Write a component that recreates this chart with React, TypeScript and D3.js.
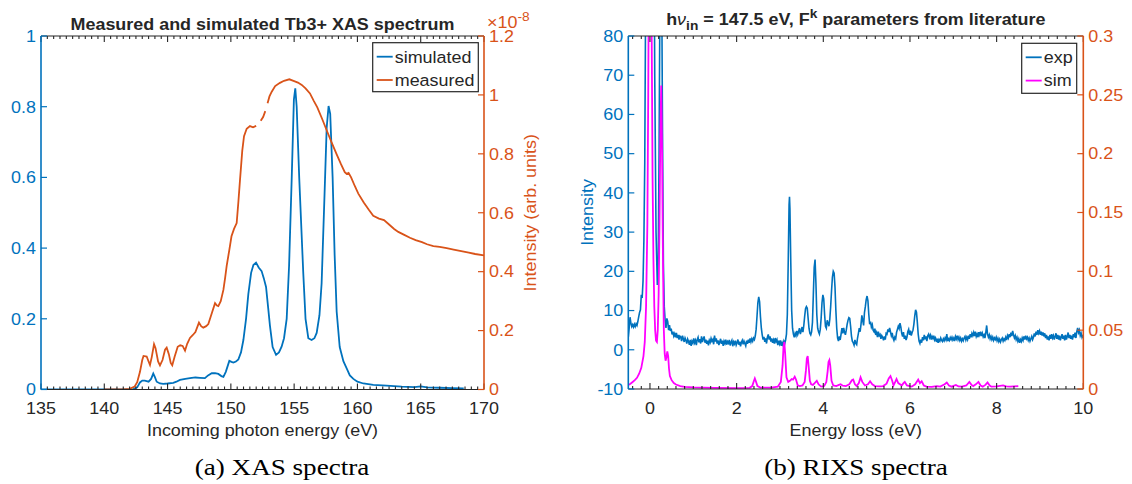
import React from 'react';
import * as d3 from 'd3';

const BLUE = '#0072BD';
const ORANGE = '#D95319';
const MAG = '#FF00FF';
const AX = '#262626';
const FONT = '"Liberation Sans", Arial, Helvetica, sans-serif';
const SERIF = '"Liberation Serif", "Times New Roman", serif';
const FS = 16.3;
const SX = 1.1;

// ---------- XAS panel data ----------
const xasXTicks = [135, 140, 145, 150, 155, 160, 165, 170];
const xasLeftTicks = [0, 0.2, 0.4, 0.6, 0.8, 1];
const xasRightTicks = [0, 0.2, 0.4, 0.6, 0.8, 1, 1.2];

// simulated XAS: [photon energy (eV), intensity]
const xasSimulated = [
  [135, 0], [140, 0], [142.3, 0.001], [142.6, 0.006], [142.82, 0.02], [143.0, 0.025], [143.2, 0.025], [143.5, 0.022],
  [143.7, 0.03], [143.87, 0.045], [144.0, 0.035], [144.14, 0.022], [144.4, 0.017], [144.66, 0.016], [145.0, 0.017],
  [145.45, 0.019], [145.7, 0.022], [145.98, 0.027], [146.4, 0.03], [146.77, 0.032], [147.2, 0.034], [147.56, 0.033],
  [147.95, 0.032], [148.2, 0.04], [148.49, 0.046], [148.75, 0.046], [149.01, 0.044], [149.25, 0.038], [149.41, 0.036],
  [149.6, 0.05], [149.88, 0.081], [150.05, 0.078], [150.2, 0.076], [150.4, 0.079], [150.59, 0.085], [150.8, 0.105],
  [150.99, 0.14], [151.2, 0.2], [151.38, 0.27], [151.6, 0.33], [151.78, 0.352], [151.99, 0.359], [152.2, 0.345],
  [152.43, 0.335], [152.6, 0.315], [152.78, 0.29], [152.95, 0.23], [153.09, 0.18], [153.3, 0.12], [153.57, 0.098],
  [153.8, 0.105], [154.01, 0.121], [154.2, 0.145], [154.41, 0.2], [154.6, 0.35], [154.81, 0.6], [154.98, 0.82],
  [155.09, 0.852], [155.2, 0.8], [155.4, 0.6], [155.72, 0.33], [155.9, 0.2], [156.12, 0.145], [156.38, 0.14],
  [156.6, 0.145], [156.78, 0.16], [157.0, 0.21], [157.17, 0.3], [157.4, 0.55], [157.57, 0.74], [157.72, 0.802],
  [157.85, 0.78], [158.04, 0.6], [158.2, 0.38], [158.36, 0.22], [158.6, 0.12], [158.89, 0.08], [159.15, 0.06],
  [159.4, 0.04], [159.68, 0.03], [160.0, 0.022], [160.47, 0.017], [161.25, 0.013], [162.3, 0.011], [163.5, 0.008],
  [164.5, 0.007], [165.0, 0.009], [165.5, 0.006], [166.5, 0.005], [167.5, 0.004], [168.4, 0.003],
];

// measured XAS (x 1e-8): null marks a gap in the measurement
const xasMeasured = [
  [140, 0], [141.5, 0], [142.0, 0.002], [142.4, 0.01], [142.6, 0.025], [142.82, 0.06], [143.0, 0.1], [143.1, 0.114],
  [143.35, 0.112], [143.5, 0.095], [143.61, 0.083], [143.75, 0.11], [143.93, 0.154], [144.05, 0.14], [144.14, 0.12],
  [144.25, 0.095], [144.4, 0.082], [144.6, 0.1], [144.8, 0.135], [144.93, 0.142], [145.1, 0.12], [145.25, 0.09],
  [145.37, 0.082], [145.55, 0.11], [145.8, 0.145], [146.0, 0.15], [146.19, 0.148], [146.38, 0.132], [146.55, 0.155],
  [146.77, 0.175], [147.0, 0.185], [147.2, 0.195], [147.48, 0.227], [147.65, 0.215], [147.82, 0.21], [148.05, 0.215],
  [148.22, 0.222], [148.5, 0.26], [148.75, 0.293], [148.9, 0.285], [149.01, 0.283], [149.2, 0.3], [149.41, 0.338],
  [149.55, 0.38], [149.67, 0.42], [149.88, 0.474], [150.05, 0.52], [150.25, 0.545], [150.46, 0.565], [150.6, 0.64],
  [150.72, 0.71], [150.9, 0.81], [151.04, 0.86], [151.25, 0.885], [151.51, 0.894], [151.75, 0.89], [152.0, 0.895],
  null,
  [152.36, 0.912], [152.55, 0.925], [152.72, 0.945],
  null,
  [152.9, 0.972], [153.05, 0.995], [153.23, 1.011], [153.5, 1.03], [153.88, 1.041], [154.2, 1.048], [154.62, 1.053],
  [155.0, 1.047], [155.3, 1.042], [155.6, 1.034], [155.9, 1.022], [156.25, 1.005], [156.55, 0.98], [156.83, 0.958],
  [157.2, 0.92], [157.57, 0.88], [157.95, 0.84], [158.36, 0.798], [158.7, 0.765], [159.0, 0.738], [159.15, 0.732],
  [159.3, 0.735], [159.5, 0.72], [159.8, 0.69], [160.07, 0.665], [160.5, 0.635], [160.9, 0.61], [161.25, 0.59],
  [161.7, 0.58], [162.1, 0.575], [162.5, 0.56], [162.9, 0.545], [163.23, 0.535], [163.7, 0.525], [164.15, 0.515],
  [164.6, 0.507], [165.1, 0.5], [165.5, 0.493], [166.0, 0.487], [166.5, 0.484], [167.05, 0.48], [167.6, 0.475],
  [168.2, 0.47], [168.8, 0.465], [169.3, 0.46], [170, 0.455],
];

// ---------- RIXS panel data ----------
const rixsXTicks = [0, 2, 4, 6, 8, 10];
const rixsLeftTicks = [-10, 0, 10, 20, 30, 40, 50, 60, 70, 80];
const rixsRightTicks = [0, 0.05, 0.1, 0.15, 0.2, 0.25, 0.3];

// experimental RIXS: [energy loss (eV), intensity]
const rixsExp = [
  [-0.5, 3.2], [-0.48, 5.5], [-0.46, 8.3], [-0.44, 6.8], [-0.42, 5.9], [-0.4, 6.4], [-0.38, 5.8], [-0.36, 6.5], [-0.34, 5.9],
  [-0.32, 6.6], [-0.3, 6.2], [-0.28, 7.2], [-0.26, 8.4], [-0.24, 9.5], [-0.22, 10.2], [-0.2, 14.0], [-0.18, 13.2],
  [-0.16, 17.5], [-0.14, 28], [-0.12, 48], [-0.1, 90], [-0.07, 150], [-0.03, 190], [0.0, 200], [0.04, 185], [0.08, 140],
  [0.11, 70], [0.14, 30], [0.17, 16.5], [0.19, 22], [0.21, 50], [0.23, 90], [0.25, 110], [0.27, 95], [0.29, 55],
  [0.31, 22], [0.33, 11], [0.35, 7.5], [0.37, 5.6], [0.39, 8.0], [0.41, 7.2], [0.43, 5.0], [0.45, 6.3], [0.47, 4.8],
  [0.49, 5.4], [0.51, 3.9], [0.53, 4.6], [0.55, 3.5], [0.57, 4.1], [0.59, 3.2], [0.61, 4.3], [0.63, 3.0], [0.65, 3.8],
  [0.67, 2.6], [0.69, 3.5], [0.71, 3.3], [0.73, 2.2], [0.75, 3.6], [0.77, 2.8], [0.79, 2.0], [0.81, 3.0], [0.83, 2.4],
  [0.85, 1.6], [0.87, 2.7], [0.89, 2.1], [0.91, 1.3], [0.93, 2.5], [0.95, 1.0], [0.97, 2.2], [0.99, 1.7], [1.01, 2.9],
  [1.03, 1.8], [1.05, 2.4], [1.07, 1.2], [1.09, 2.6], [1.11, 3.2], [1.13, 1.9], [1.15, 2.7], [1.17, 1.6], [1.19, 3.4],
  [1.21, 2.0], [1.23, 2.8], [1.25, 3.4], [1.27, 1.8], [1.29, 2.6], [1.31, 1.5], [1.33, 2.3], [1.35, 1.1], [1.37, 2.4],
  [1.39, 1.9], [1.41, 2.9], [1.43, 2.2], [1.45, 2.6], [1.47, 1.4], [1.49, 3.6], [1.51, 2.1], [1.53, 2.9], [1.55, 1.6],
  [1.57, 2.4], [1.59, 1.2], [1.61, 2.0], [1.63, 2.8], [1.65, 1.5], [1.67, 2.3], [1.69, 1.0], [1.71, 2.2], [1.73, 1.6],
  [1.75, 2.6], [1.77, 1.3], [1.79, 2.1], [1.81, 1.7], [1.83, 2.5], [1.85, 1.1], [1.87, 1.9], [1.89, 2.4], [1.91, 0.9],
  [1.93, 2.0], [1.95, 1.5], [1.97, 2.3], [1.99, 1.2], [2.01, 1.8], [2.03, 2.6], [2.05, 1.3], [2.07, 2.1], [2.09, 0.9],
  [2.11, 1.9], [2.13, 2.4], [2.15, 1.4], [2.17, 2.2], [2.19, 1.6], [2.21, 1.0], [2.23, 2.3], [2.25, 1.5], [2.27, 2.6],
  [2.29, 1.8], [2.31, 2.9], [2.33, 2.0], [2.35, 2.8], [2.37, 2.2], [2.39, 3.0], [2.41, 2.6], [2.43, 3.5], [2.45, 5.2],
  [2.47, 8.5], [2.49, 12.0], [2.51, 13.5], [2.53, 12.2], [2.55, 8.4], [2.57, 5.5], [2.59, 3.8], [2.61, 2.6], [2.63, 3.3],
  [2.65, 2.0], [2.67, 2.9], [2.69, 1.6], [2.71, 3.2], [2.73, 3.9], [2.75, 2.6], [2.77, 3.4], [2.79, 2.1], [2.81, 2.9],
  [2.83, 1.8], [2.85, 2.5], [2.87, 1.6], [2.89, 3.0], [2.91, 2.1], [2.93, 2.6], [2.95, 1.2], [2.97, 2.3], [2.99, 1.5],
  [3.01, 2.4], [3.03, 1.0], [3.05, 1.8], [3.07, 1.2], [3.09, 2.2], [3.11, 1.6], [3.13, 2.5], [3.15, 4.0], [3.17, 9],
  [3.19, 22], [3.21, 37], [3.22, 39], [3.23, 36], [3.25, 22], [3.27, 10], [3.29, 5.5], [3.31, 4.0], [3.33, 3.2],
  [3.35, 4.2], [3.37, 3.6], [3.39, 4.8], [3.41, 3.9], [3.43, 4.6], [3.45, 5.5], [3.47, 4.0], [3.49, 4.8], [3.51, 5.8],
  [3.53, 4.5], [3.55, 6.2], [3.57, 8.5], [3.59, 10.5], [3.61, 11.0], [3.63, 10.6], [3.65, 8.0], [3.67, 5.5], [3.69, 4.2],
  [3.71, 3.8], [3.73, 4.6], [3.75, 7.0], [3.77, 14], [3.79, 21], [3.81, 23], [3.83, 17], [3.85, 9], [3.87, 5.5],
  [3.89, 4.6], [3.91, 4.0], [3.93, 5.2], [3.95, 8.0], [3.97, 12], [3.99, 14], [4.01, 13], [4.03, 9], [4.05, 6.0],
  [4.07, 5.5], [4.09, 7.5], [4.11, 6.8], [4.13, 6.0], [4.15, 7.8], [4.17, 11], [4.19, 15], [4.21, 18.5], [4.23, 20],
  [4.25, 19.5], [4.27, 16], [4.29, 10], [4.31, 5.5], [4.33, 3.0], [4.35, 2.2], [4.37, 3.4], [4.39, 2.5], [4.41, 4.0],
  [4.43, 5.5], [4.45, 4.2], [4.47, 5.6], [4.49, 4.5], [4.51, 3.8], [4.53, 5.0], [4.55, 6.5], [4.57, 7.5], [4.59, 8.2],
  [4.61, 8.0], [4.63, 6.0], [4.65, 3.5], [4.67, 2.2], [4.69, 1.8], [4.71, 1.2], [4.73, 2.5], [4.75, 1.6], [4.77, 1.3],
  [4.79, 3.0], [4.81, 4.2], [4.83, 5.5], [4.85, 4.6], [4.87, 6.5], [4.89, 8.8], [4.91, 7.5], [4.93, 6.2], [4.95, 9.5],
  [4.97, 11.0], [4.99, 12.8], [5.01, 13.7], [5.03, 12.5], [5.05, 9.0], [5.07, 6.5], [5.09, 7.2], [5.11, 5.8], [5.13, 6.4],
  [5.15, 5.0], [5.17, 4.6], [5.19, 5.4], [5.21, 3.8], [5.23, 4.4], [5.25, 3.2], [5.27, 4.6], [5.29, 3.6], [5.31, 3.9],
  [5.33, 2.8], [5.35, 3.6], [5.37, 3.2], [5.39, 2.4], [5.41, 3.4], [5.43, 2.6], [5.45, 4.2], [5.47, 4.0], [5.49, 5.2],
  [5.51, 4.5], [5.53, 5.6], [5.55, 4.6], [5.57, 3.6], [5.59, 4.3], [5.61, 3.0], [5.63, 2.4], [5.65, 3.2], [5.67, 2.8],
  [5.69, 4.4], [5.71, 5.2], [5.73, 6.0], [5.75, 5.4], [5.77, 6.8], [5.79, 5.8], [5.81, 4.2], [5.83, 3.4], [5.85, 4.5],
  [5.87, 2.8], [5.89, 3.6], [5.91, 2.5], [5.93, 3.2], [5.95, 4.6], [5.97, 5.2], [5.99, 3.8], [6.01, 4.9], [6.03, 3.6],
  [6.05, 4.4], [6.07, 5.0], [6.09, 6.5], [6.11, 8.6], [6.13, 10.2], [6.15, 9.6], [6.17, 7.0], [6.19, 4.0], [6.21, 2.2],
  [6.23, 1.6], [6.25, 2.6], [6.27, 1.8], [6.29, 3.2], [6.31, 2.4], [6.33, 3.8], [6.35, 2.7], [6.37, 3.4], [6.39, 2.2],
  [6.41, 3.6], [6.43, 4.0], [6.45, 3.1], [6.47, 3.7], [6.49, 2.6], [6.51, 3.4], [6.53, 2.9], [6.55, 3.6], [6.57, 2.5],
  [6.59, 3.0], [6.61, 2.0], [6.63, 2.8], [6.65, 1.8], [6.67, 2.6], [6.69, 2.2], [6.71, 3.0], [6.73, 2.4], [6.75, 2.1],
  [6.77, 2.8], [6.79, 2.3], [6.81, 3.0], [6.83, 2.5], [6.85, 4.0], [6.87, 2.2], [6.89, 2.8], [6.91, 2.4], [6.93, 3.1],
  [6.95, 2.6], [6.97, 3.2], [6.99, 2.5], [7.01, 3.0], [7.03, 2.2], [7.05, 3.4], [7.07, 2.8], [7.09, 3.6], [7.11, 2.6],
  [7.13, 3.2], [7.15, 2.4], [7.17, 3.0], [7.19, 2.2], [7.21, 2.8], [7.23, 2.3], [7.25, 3.0], [7.27, 3.4], [7.29, 2.5],
  [7.31, 3.2], [7.33, 2.6], [7.35, 3.6], [7.37, 2.8], [7.39, 4.0], [7.41, 3.2], [7.43, 4.2], [7.45, 3.6], [7.47, 4.4],
  [7.49, 3.5], [7.51, 4.6], [7.53, 3.4], [7.55, 4.0], [7.57, 3.2], [7.59, 4.5], [7.61, 3.8], [7.63, 4.6], [7.65, 3.5],
  [7.67, 4.2], [7.69, 3.3], [7.71, 3.8], [7.73, 3.0], [7.75, 4.4], [7.77, 6.2], [7.79, 4.0], [7.81, 3.2], [7.83, 3.8],
  [7.85, 2.8], [7.87, 3.4], [7.89, 2.6], [7.91, 3.2], [7.93, 2.4], [7.95, 3.0], [7.97, 2.6], [7.99, 3.2], [8.01, 2.3],
  [8.03, 2.9], [8.05, 2.1], [8.07, 2.7], [8.09, 2.0], [8.11, 2.6], [8.13, 3.0], [8.15, 2.2], [8.17, 2.8], [8.19, 2.4],
  [8.21, 3.2], [8.23, 2.5], [8.25, 3.6], [8.27, 3.0], [8.29, 4.0], [8.31, 3.2], [8.33, 4.4], [8.35, 3.5], [8.37, 4.8],
  [8.39, 3.8], [8.41, 3.0], [8.43, 3.6], [8.45, 2.6], [8.47, 3.2], [8.49, 2.2], [8.51, 2.8], [8.53, 1.8], [8.55, 2.6],
  [8.57, 2.1], [8.59, 3.0], [8.61, 2.4], [8.63, 3.4], [8.65, 2.6], [8.67, 3.6], [8.69, 2.8], [8.71, 3.2], [8.73, 2.4],
  [8.75, 3.0], [8.77, 2.2], [8.79, 2.8], [8.81, 3.4], [8.83, 2.6], [8.85, 3.2], [8.87, 4.2], [8.89, 3.4], [8.91, 4.6],
  [8.93, 3.8], [8.95, 5.0], [8.97, 4.2], [8.99, 4.8], [9.01, 3.8], [9.03, 4.6], [9.05, 3.6], [9.07, 4.4], [9.09, 3.4],
  [9.11, 4.2], [9.13, 3.0], [9.15, 3.8], [9.17, 2.6], [9.19, 3.4], [9.21, 2.4], [9.23, 3.8], [9.25, 2.8], [9.27, 4.0],
  [9.29, 3.0], [9.31, 3.6], [9.33, 2.6], [9.35, 3.4], [9.37, 4.2], [9.39, 2.8], [9.41, 3.8], [9.43, 2.6], [9.45, 3.6],
  [9.47, 2.4], [9.49, 3.2], [9.51, 4.0], [9.53, 2.8], [9.55, 3.6], [9.57, 2.4], [9.59, 3.8], [9.61, 2.6], [9.63, 3.4],
  [9.65, 4.4], [9.67, 3.0], [9.69, 3.8], [9.71, 2.8], [9.73, 3.6], [9.75, 2.6], [9.77, 4.0], [9.79, 3.2], [9.81, 4.4],
  [9.83, 3.0], [9.85, 4.6], [9.87, 5.6], [9.89, 4.4], [9.91, 5.0], [9.93, 3.6], [9.95, 4.2], [9.97, 3.2], [9.99, 3.8],
  [10.0, 3.0],
];

// simulated RIXS (right axis): [energy loss (eV), intensity]
const rixsSim = [
  [-0.5, 0.0034], [-0.45, 0.0045], [-0.4, 0.006], [-0.35, 0.0075], [-0.3, 0.0095], [-0.25, 0.013], [-0.2, 0.018],
  [-0.15, 0.028], [-0.12, 0.04], [-0.09, 0.07], [-0.06, 0.14], [-0.04, 0.25], [-0.02, 0.4], [0.0, 0.55], [0.02, 0.45],
  [0.04, 0.3], [0.06, 0.18], [0.08, 0.11], [0.1, 0.07], [0.12, 0.05], [0.14, 0.041], [0.16, 0.04], [0.18, 0.05],
  [0.2, 0.08], [0.22, 0.14], [0.24, 0.22], [0.26, 0.258], [0.28, 0.2], [0.3, 0.11], [0.32, 0.05], [0.34, 0.03],
  [0.36, 0.024], [0.38, 0.027], [0.4, 0.032], [0.42, 0.028], [0.44, 0.017], [0.46, 0.011], [0.5, 0.0075], [0.55, 0.005],
  [0.6, 0.0038], [0.7, 0.0025], [0.8, 0.0018], [1.0, 0.0013], [1.5, 0.0009], [2.0, 0.0008], [2.3, 0.001], [2.36, 0.0025],
  [2.4, 0.007], [2.42, 0.009], [2.44, 0.007], [2.48, 0.0025], [2.55, 0.0012], [2.8, 0.0012], [2.95, 0.002], [3.02, 0.006],
  [3.06, 0.02], [3.08, 0.035], [3.1, 0.04], [3.12, 0.03], [3.15, 0.01], [3.19, 0.006], [3.23, 0.007], [3.27, 0.0085],
  [3.3, 0.008], [3.34, 0.0105], [3.37, 0.008], [3.41, 0.003], [3.46, 0.0025], [3.52, 0.003], [3.57, 0.006], [3.6, 0.016],
  [3.62, 0.026], [3.64, 0.028], [3.66, 0.02], [3.69, 0.007], [3.72, 0.004], [3.76, 0.0035], [3.8, 0.005], [3.85, 0.007],
  [3.89, 0.004], [3.95, 0.002], [4.02, 0.0025], [4.07, 0.006], [4.1, 0.015], [4.12, 0.023], [4.14, 0.0246], [4.16, 0.02],
  [4.19, 0.007], [4.23, 0.003], [4.3, 0.0025], [4.36, 0.0035], [4.4, 0.004], [4.45, 0.0028], [4.52, 0.0025], [4.6, 0.004],
  [4.66, 0.0075], [4.69, 0.008], [4.73, 0.004], [4.77, 0.0025], [4.82, 0.005], [4.86, 0.0099], [4.9, 0.006], [4.96, 0.003],
  [5.03, 0.004], [5.08, 0.0066], [5.13, 0.004], [5.19, 0.0025], [5.3, 0.0022], [5.38, 0.0025], [5.46, 0.0045], [5.51, 0.009],
  [5.55, 0.011], [5.59, 0.007], [5.62, 0.003], [5.66, 0.006], [5.69, 0.0085], [5.73, 0.005], [5.81, 0.003], [5.85, 0.005],
  [5.88, 0.006], [5.93, 0.003], [6.04, 0.002], [6.12, 0.004], [6.19, 0.008], [6.23, 0.005], [6.27, 0.0066], [6.32, 0.003],
  [6.38, 0.002], [6.5, 0.0018], [6.62, 0.0025], [6.7, 0.002], [6.8, 0.004], [6.85, 0.0055], [6.9, 0.003], [6.96, 0.002],
  [7.06, 0.0035], [7.12, 0.0022], [7.2, 0.002], [7.3, 0.003], [7.37, 0.006], [7.42, 0.0035], [7.46, 0.0025], [7.52, 0.004],
  [7.58, 0.006], [7.63, 0.003], [7.68, 0.002], [7.74, 0.0035], [7.79, 0.0055], [7.84, 0.003], [7.88, 0.002], [8.0, 0.0022],
  [8.15, 0.003], [8.22, 0.0022], [8.31, 0.002], [8.4, 0.0022], [8.5, 0.0025],
];

// ---------- helpers ----------
function T({ x, y, children, anchor = 'start', fill = AX, size = FS, weight = 'normal', rot = 0, sx = SX, family = FONT }: any) {
  return (
    <text
      transform={`translate(${x},${y}) rotate(${rot}) scale(${sx},1)`}
      textAnchor={anchor}
      fill={fill}
      fontSize={size}
      fontWeight={weight}
      fontFamily={family}
    >
      {children}
    </text>
  );
}

function fmt(v: number) {
  return String(+v.toFixed(4));
}

function Frame({ xs, yl, yr, xMajor, xMinor, ylTicks, yrTicks }: any) {
  const [x0, x1] = xs.range();
  const [yb, yt] = yl.range();
  const MAJ = 6;
  const MIN = 3;
  return (
    <g>
      <line x1={x0} x2={x1} y1={yt} y2={yt} stroke={AX} strokeWidth={1.2} />
      <line x1={x0} x2={x1} y1={yb} y2={yb} stroke={AX} strokeWidth={1.2} />
      {xMinor.map((v: number) => (
        <g key={'mn' + v}>
          <line x1={xs(v)} x2={xs(v)} y1={yb} y2={yb - MIN} stroke={AX} strokeWidth={1.1} />
          <line x1={xs(v)} x2={xs(v)} y1={yt} y2={yt + MIN} stroke={AX} strokeWidth={1.1} />
        </g>
      ))}
      {xMajor.map((v: number) => (
        <g key={'mj' + v}>
          <line x1={xs(v)} x2={xs(v)} y1={yb} y2={yb - MAJ} stroke={AX} strokeWidth={1.1} />
          <line x1={xs(v)} x2={xs(v)} y1={yt} y2={yt + MAJ} stroke={AX} strokeWidth={1.1} />
          <T x={xs(v)} y={413.5} anchor="middle">{fmt(v)}</T>
        </g>
      ))}
      <line x1={x0} x2={x0} y1={yb} y2={yt} stroke={BLUE} strokeWidth={1.6} />
      {ylTicks.map((v: number) => (
        <g key={'yl' + v}>
          <line x1={x0} x2={x0 + MAJ} y1={yl(v)} y2={yl(v)} stroke={BLUE} strokeWidth={1.2} />
          <T x={x0 - 5} y={yl(v) + 5.8} anchor="end" fill={BLUE}>{fmt(v)}</T>
        </g>
      ))}
      <line x1={x1} x2={x1} y1={yb} y2={yt} stroke={ORANGE} strokeWidth={1.6} />
      {yrTicks.map((v: number) => (
        <g key={'yr' + v}>
          <line x1={x1} x2={x1 - MAJ} y1={yr(v)} y2={yr(v)} stroke={ORANGE} strokeWidth={1.2} />
          <T x={x1 + 5} y={yr(v) + 5.8} anchor="start" fill={ORANGE}>{fmt(v)}</T>
        </g>
      ))}
    </g>
  );
}

function Legend({ x, y, w, h, items }: any) {
  return (
    <g>
      <rect x={x} y={y} width={w} height={h} fill="white" stroke={AX} strokeWidth={1.2} />
      {items.map((it: any, i: number) => (
        <g key={it.label}>
          <line x1={x + 4} x2={x + 20} y1={y + 14 + i * 23.3} y2={y + 14 + i * 23.3} stroke={it.color} strokeWidth={1.8} />
          <T x={x + 22} y={y + 14 + i * 23.3 + 5.8}>{it.label}</T>
        </g>
      ))}
    </g>
  );
}

export default function App() {
  // XAS panel scales
  const xA = d3.scaleLinear().domain([135, 170]).range([41, 484]);
  const yA1 = d3.scaleLinear().domain([0, 1]).range([389.5, 36]);
  const yA2 = d3.scaleLinear().domain([0, 1.2]).range([389.5, 36]);
  // RIXS panel scales
  const xB = d3.scaleLinear().domain([-0.5, 10]).range([628.3, 1083.3]);
  const yB1 = d3.scaleLinear().domain([-10, 80]).range([389, 36]);
  const yB2 = d3.scaleLinear().domain([0, 0.3]).range([389, 36]);

  const line = (xs: any, ys: any) =>
    d3.line<any>().defined((d: any) => d !== null).x((d: any) => xs(d[0])).y((d: any) => ys(d[1]));

  const xAMinor = d3.range(135, 170.001, 0.5).filter((v) => Math.abs(v % 5) > 1e-6);
  const xBMinor = d3.range(-0.4, 10.001, 0.2).map((v) => +v.toFixed(2)).filter((v) => Math.abs(v % 2) > 1e-6);

  return (
    <svg width={1132} height={484} style={{ position: 'absolute', left: 0, top: 0, background: 'white' }}>
      <defs>
        <clipPath id="clipA">
          <rect x={41} y={36} width={443} height={353.5} />
        </clipPath>
        <clipPath id="clipB">
          <rect x={628.3} y={36} width={455} height={353} />
        </clipPath>
      </defs>
      <rect x={0} y={0} width={1132} height={484} fill="white" />

      {/* ---------------- Panel (a) ---------------- */}
      <g clipPath="url(#clipA)">
        <path d={line(xA, yA1)(xasSimulated) || ''} fill="none" stroke={BLUE} strokeWidth={1.8} />
        <path d={line(xA, yA2)(xasMeasured) || ''} fill="none" stroke={ORANGE} strokeWidth={1.8} />
      </g>
      <Frame xs={xA} yl={yA1} yr={yA2} xMajor={xasXTicks} xMinor={xAMinor} ylTicks={xasLeftTicks} yrTicks={xasRightTicks} />
      <T x={262.5} y={29.5} anchor="middle" weight="bold">Measured and simulated Tb3+ XAS spectrum</T>
      <text transform={`translate(487,28) scale(${SX},1)`} fill={ORANGE} fontSize={FS} fontFamily={FONT}>
        ×10<tspan dy={-7} fontSize={12.5}>-8</tspan>
      </text>
      <T x={536} y={212.75} anchor="middle" rot={-90} fill={ORANGE}>Intensity (arb. units)</T>
      <T x={262.5} y={435.7} anchor="middle">Incoming photon energy (eV)</T>
      <Legend x={372.7} y={42.7} w={105.6} h={49} items={[{ label: 'simulated', color: BLUE }, { label: 'measured', color: ORANGE }]} />
      <T x={282} y={475} anchor="middle" family={SERIF} size={24} sx={1.13} fill="#000">(a) XAS spectra</T>

      {/* ---------------- Panel (b) ---------------- */}
      <g clipPath="url(#clipB)">
        <path d={line(xB, yB1)(rixsExp) || ''} fill="none" stroke={BLUE} strokeWidth={1.6} />
        <path d={line(xB, yB2)(rixsSim) || ''} fill="none" stroke={MAG} strokeWidth={1.8} />
      </g>
      <Frame xs={xB} yl={yB1} yr={yB2} xMajor={rixsXTicks} xMinor={xBMinor} ylTicks={rixsLeftTicks} yrTicks={rixsRightTicks} />
      <text transform={`translate(855.8,25) scale(${SX},1)`} textAnchor="middle" fill={AX} fontSize={FS} fontWeight="bold" fontFamily={FONT}>
        h<tspan fontStyle="italic" fontWeight="normal">ν</tspan>
        <tspan dy={5} fontSize={12.5}>in</tspan>
        <tspan dy={-5}> = 147.5 eV, F</tspan>
        <tspan dy={-7} fontSize={12.5}>k</tspan>
        <tspan dy={7}> parameters from literature</tspan>
      </text>
      <T x={593} y={212.5} anchor="middle" rot={-90} fill={BLUE}>Intensity</T>
      <T x={855.8} y={435.7} anchor="middle">Energy loss (eV)</T>
      <Legend x={1021.7} y={43.3} w={55} h={50} items={[{ label: 'exp', color: BLUE }, { label: 'sim', color: MAG }]} />
      <T x={856} y={475} anchor="middle" family={SERIF} size={24} sx={1.13} fill="#000">(b) RIXS spectra</T>
    </svg>
  );
}
